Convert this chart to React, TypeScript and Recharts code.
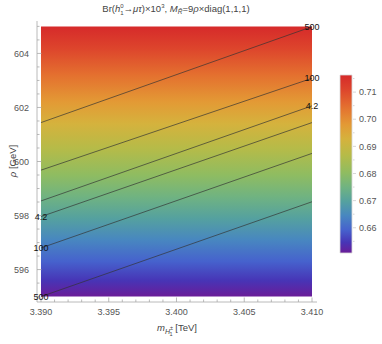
import React from 'react';
import { ComposedChart, Line, XAxis, YAxis, ReferenceArea } from 'recharts';

// axis ticks
const xMajor = [3.39, 3.395, 3.4, 3.405, 3.41];
const xTicks = [
  3.39, 3.391, 3.392, 3.393, 3.394, 3.395, 3.396, 3.397, 3.398, 3.399, 3.4,
  3.401, 3.402, 3.403, 3.404, 3.405, 3.406, 3.407, 3.408, 3.409, 3.41,
];
const yMajor = [596, 598, 600, 602, 604];
const yTicks = [
  595, 595.5, 596, 596.5, 597, 597.5, 598, 598.5, 599, 599.5, 600,
  600.5, 601, 601.5, 602, 602.5, 603, 603.5, 604, 604.5, 605,
];
const barMajor = [0.66, 0.67, 0.68, 0.69, 0.7, 0.71];
const barTicks = [0.655, 0.66, 0.665, 0.67, 0.675, 0.68, 0.685, 0.69, 0.695, 0.7, 0.705, 0.71, 0.715];

// plot range and colour scale range
const mRange = [3.39, 3.41];
const rhoRange = [595, 605];
const brRange = [0.6507, 0.7163];

// colour scale (top = high, bottom = low)
const scaleOffsets = [0, 0.08, 0.18, 0.28, 0.36, 0.45, 0.55, 0.63, 0.71, 0.79, 0.87, 0.94, 1];
const scaleColors = [
  '#d62a2a', '#dd442c', '#e4702f', '#e39a35', '#d5b23d', '#b6bb48', '#8fbc61',
  '#70b381', '#55a19f', '#4887c0', '#4662cd', '#4735b6', '#6a1c98',
];

// contour lines: rho at m = 3.390 and m = 3.410
const contourNames = ['500', '100', '4.2', '4.2', '100', '500'];
const contourLeft = [601.44, 599.68, 598.54, 597.96, 596.8, 595.0];
const contourRight = [604.99, 603.08, 602.06, 601.44, 600.3, 598.51];
const contourLabelSide = ['right', 'right', 'right', 'left', 'left', 'left'];

const contours = contourNames.map((name, i) => ({
  name,
  side: contourLabelSide[i],
  points: [
    { m: mRange[0], rho: contourLeft[i] },
    { m: mRange[1], rho: contourRight[i] },
  ],
}));

// colour bar column (low and high end of the scale)
const barColumn = [
  { x: 0, br: brRange[0] },
  { x: 1, br: brRange[1] },
];

const FRAME = '#a8a8a8';
const TICK_TEXT = '#555';
const FONT = '"Liberation Sans", Arial, sans-serif';

const isMajor = (v: number, majors: number[]) => majors.some((m) => Math.abs(m - v) < 1e-9);

function FrameTick(props: any) {
  const { x, y, payload, side, majors, digits } = props;
  const major = isMajor(payload.value, majors);
  const len = major ? 4.5 : 2.5;
  if (side === 'bottom') {
    return (
      <g>
        <line x1={x} y1={y} x2={x} y2={y - len} stroke={FRAME} strokeWidth={0.8} />
        {major && (
          <text x={x} y={y + 13} textAnchor="middle" fontSize={9} fill={TICK_TEXT} fontFamily={FONT}>
            {payload.value.toFixed(digits)}
          </text>
        )}
      </g>
    );
  }
  if (side === 'top') {
    return <line x1={x} y1={y} x2={x} y2={y + len} stroke={FRAME} strokeWidth={0.8} />;
  }
  if (side === 'left') {
    return (
      <g>
        <line x1={x} y1={y} x2={x + len} y2={y} stroke={FRAME} strokeWidth={0.8} />
        {major && (
          <text x={x - 8} y={y + 3.2} textAnchor="end" fontSize={9} fill={TICK_TEXT} fontFamily={FONT}>
            {payload.value.toFixed(digits)}
          </text>
        )}
      </g>
    );
  }
  return <line x1={x} y1={y} x2={x - len} y2={y} stroke={FRAME} strokeWidth={0.8} />;
}

function BarTick(props: any) {
  const { x, y, payload } = props;
  const major = isMajor(payload.value, barMajor);
  return (
    <g>
      <line x1={x + 1} y1={y} x2={x + (major ? 4 : 2.5)} y2={y} stroke="#c4c4c4" strokeWidth={0.7} />
      {major && (
        <text x={x + 7} y={y + 3.2} textAnchor="start" fontSize={9} fill={TICK_TEXT} fontFamily={FONT}>
          {payload.value.toFixed(2)}
        </text>
      )}
    </g>
  );
}

const contourLabel = (side: string, name: string) => (p: any) => {
  const want = side === 'left' ? 0 : 1;
  if (p.index !== want) return null;
  return (
    <text
      key={`lbl-${name}-${side}`}
      x={p.x}
      y={p.y + 3.2}
      textAnchor="middle"
      fontSize={9}
      fill="#111"
      fontFamily={FONT}
    >
      {name}
    </text>
  );
};

export default function App() {
  return (
    <div style={{ position: 'absolute', left: 0, top: 0, width: 382, height: 344, background: '#fff' }}>
      <svg width={0} height={0} style={{ position: 'absolute' }}>
        <defs>
          <linearGradient id="scaleGrad" x1="0" y1="0" x2="0" y2="1">
            {scaleOffsets.map((o, i) => (
              <stop key={i} offset={o} stopColor={scaleColors[i]} />
            ))}
          </linearGradient>
        </defs>
      </svg>

      <div style={{ position: 'absolute', left: 0, top: 0 }}>
        <ComposedChart width={382} height={344} margin={{ top: 21, right: 65, bottom: 0, left: 0 }}>
          <XAxis
            xAxisId="b"
            dataKey="m"
            type="number"
            orientation="bottom"
            domain={[3.389705, 3.410369]}
            ticks={xTicks}
            interval={0}
            height={42}
            tickSize={0}
            tickMargin={0}
            tickLine={false}
            axisLine={{ stroke: FRAME, strokeWidth: 0.8 }}
            tick={<FrameTick side="bottom" majors={xMajor} digits={3} />}
            allowDataOverflow
          />
          <XAxis
            xAxisId="t"
            dataKey="m"
            type="number"
            orientation="top"
            domain={[3.389705, 3.410369]}
            ticks={xTicks}
            interval={0}
            height={0}
            tickSize={0}
            tickMargin={0}
            tickLine={false}
            axisLine={{ stroke: FRAME, strokeWidth: 0.8 }}
            tick={<FrameTick side="top" majors={xMajor} digits={3} />}
            allowDataOverflow
          />
          <YAxis
            yAxisId="l"
            type="number"
            orientation="left"
            domain={[594.8, 605.2]}
            ticks={yTicks}
            interval={0}
            width={37}
            tickSize={0}
            tickMargin={0}
            tickLine={false}
            axisLine={{ stroke: FRAME, strokeWidth: 0.8 }}
            tick={<FrameTick side="left" majors={yMajor} digits={0} />}
            allowDataOverflow
          />
          <YAxis
            yAxisId="r"
            type="number"
            orientation="right"
            domain={[594.8, 605.2]}
            ticks={yTicks}
            interval={0}
            width={0}
            tickSize={0}
            tickMargin={0}
            tickLine={false}
            axisLine={{ stroke: FRAME, strokeWidth: 0.8 }}
            tick={<FrameTick side="right" majors={yMajor} digits={0} />}
            allowDataOverflow
          />
          <ReferenceArea
            xAxisId="b"
            yAxisId="l"
            x1={mRange[0]}
            x2={mRange[1]}
            y1={rhoRange[0]}
            y2={rhoRange[1]}
            fill="url(#scaleGrad)"
            fillOpacity={1}
            stroke="none"
            ifOverflow="visible"
          />
          {contours.map((c, i) => (
            <Line
              key={i}
              xAxisId="b"
              yAxisId="l"
              data={c.points}
              dataKey="rho"
              type="linear"
              stroke="#333"
              strokeOpacity={0.85}
              strokeWidth={0.8}
              dot={false}
              activeDot={false}
              isAnimationActive={false}
              label={contourLabel(c.side, c.name)}
            />
          ))}
        </ComposedChart>
      </div>

      {/* colour bar legend */}
      <div style={{ position: 'absolute', left: 330, top: 60 }}>
        <ComposedChart
          width={62}
          height={200}
          data={barColumn}
          margin={{ top: 15, right: 0, bottom: 7, left: 10 }}
        >
          <XAxis xAxisId="cb" dataKey="x" type="number" domain={[0, 1]} hide />
          <YAxis
            yAxisId="cb"
            type="number"
            orientation="right"
            domain={brRange}
            ticks={barTicks}
            interval={0}
            width={40}
            tickSize={0}
            tickMargin={0}
            tickLine={false}
            axisLine={false}
            tick={<BarTick />}
            allowDataOverflow
          />
          <ReferenceArea
            xAxisId="cb"
            yAxisId="cb"
            x1={0}
            x2={1}
            y1={brRange[0]}
            y2={brRange[1]}
            fill="url(#scaleGrad)"
            fillOpacity={1}
            stroke="#d8d8d8"
            strokeWidth={0.8}
            ifOverflow="visible"
          />
          <Line
            xAxisId="cb"
            yAxisId="cb"
            dataKey="br"
            stroke="none"
            dot={false}
            activeDot={false}
            isAnimationActive={false}
          />
        </ComposedChart>
      </div>

      {/* title and axis labels */}
      <svg
        width={382}
        height={344}
        style={{ position: 'absolute', left: 0, top: 0, pointerEvents: 'none' }}
        fontFamily={FONT}
      >
        <text x={176} y={12} textAnchor="middle" fontSize={9.5} fill="#444">
          Br(<tspan fontStyle="italic">h</tspan>
          <tspan fontSize={6} dy={-4}>0</tspan>
          <tspan fontSize={6} dx={-3.4} dy={7}>1</tspan>
          <tspan dy={-3}>→</tspan>
          <tspan fontStyle="italic">μτ</tspan>)×10
          <tspan fontSize={6} dy={-4}>3</tspan>
          <tspan dy={4}>, </tspan>
          <tspan fontStyle="italic">M</tspan>
          <tspan fontSize={6.5} fontStyle="italic" dy={2}>R̃</tspan>
          <tspan dy={-2}>=9</tspan>
          <tspan fontStyle="italic">ρ</tspan>×diag(1,1,1)
        </text>
        <text x={177} y={331} textAnchor="middle" fontSize={9.5} fill="#444">
          <tspan fontStyle="italic">m</tspan>
          <tspan fontSize={7} fontStyle="italic" dy={2.5}>H</tspan>
          <tspan fontSize={5.5} dy={-3.5}>±</tspan>
          <tspan fontSize={5.5} dx={-3.5} dy={6}>1</tspan>
          <tspan fontSize={9.5} dy={-5}>{'  [TeV]'}</tspan>
        </text>
        <text
          x={13}
          y={161}
          textAnchor="middle"
          fontSize={9.5}
          fill="#444"
          transform="rotate(-90 13 161)"
          dy={3}
        >
          <tspan fontStyle="italic">ρ</tspan> [GeV]
        </text>
      </svg>
    </div>
  );
}
